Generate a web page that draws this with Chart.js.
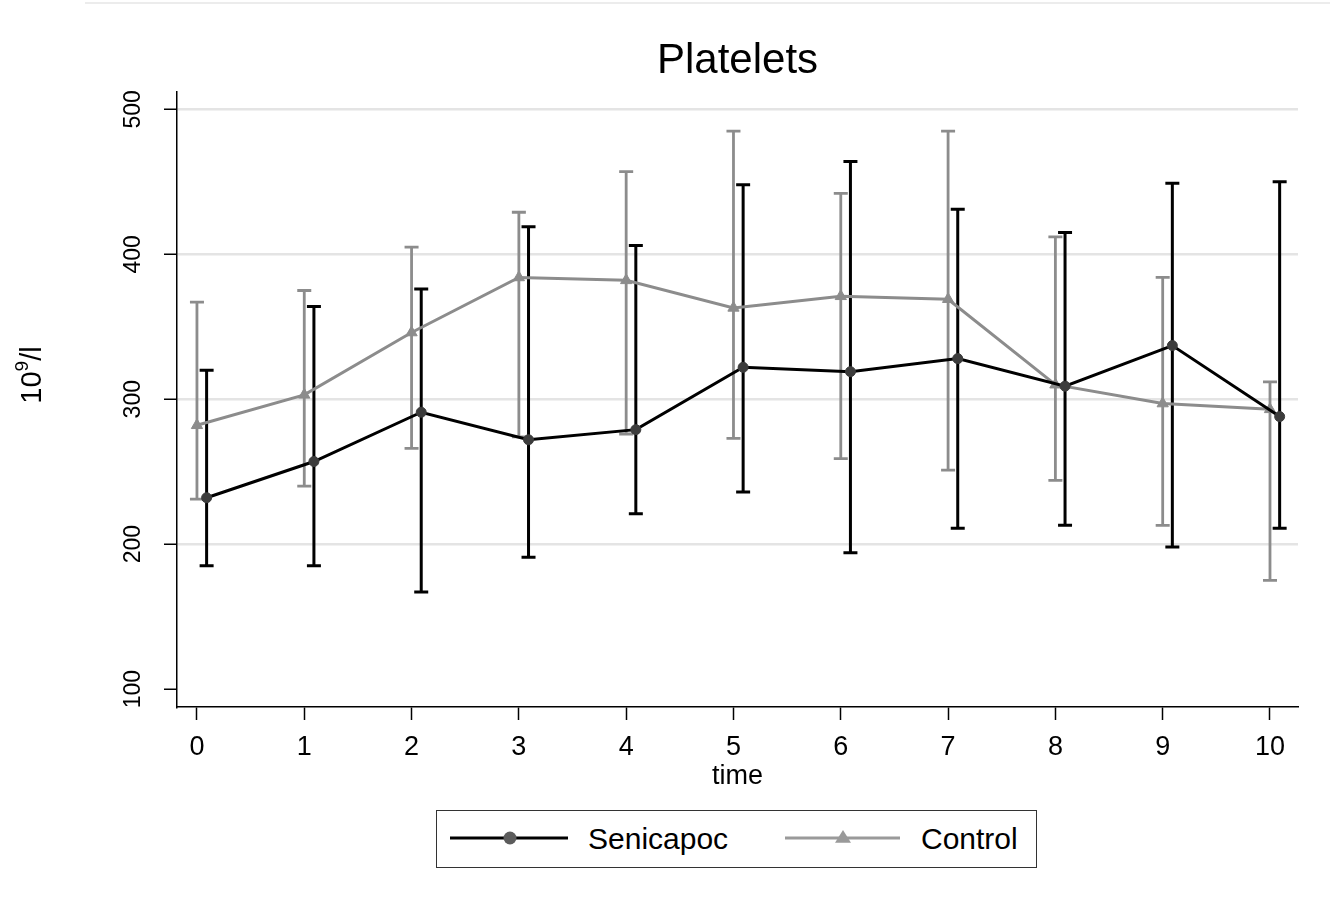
<!DOCTYPE html>
<html>
<head>
<meta charset="utf-8">
<script src="https://cdn.jsdelivr.net/npm/chart.js@4/dist/chart.umd.min.js"></script>
<style>
html,body{margin:0;padding:0;background:#fff;}
#wrap{position:relative;width:1330px;height:909px;overflow:hidden;font-family:'Liberation Sans',Arial,sans-serif;}
#topline{position:absolute;left:85px;top:2px;width:1245px;height:2px;background:#ececec;}
#c{position:absolute;left:0;top:0;}
#legend{position:absolute;left:436px;top:810px;width:601px;height:58px;box-sizing:border-box;border:1.5px solid #333;background:#fff;}
#legend svg{position:absolute;left:0;top:0;}
.lg-text{position:absolute;top:0;height:55px;line-height:55px;font-size:30px;color:#000;white-space:nowrap;}
</style>
</head>
<body>
<div id="wrap">
  <div id="topline"></div>
  <canvas id="c" width="1330" height="909"></canvas>
  <div id="legend"></div>
</div>
<script>
// ---- data ----
const timePoints = [0, 1, 2, 3, 4, 5, 6, 7, 8, 9, 10];
const xTickLabels = ['0', '1', '2', '3', '4', '5', '6', '7', '8', '9', '10'];
const yTickValues = [100, 200, 300, 400, 500];
const yTickLabels = ['100', '200', '300', '400', '500'];
const seriesNames = ['Senicapoc', 'Control'];

const senicapocMean = [232, 257, 291, 272, 279, 322, 319, 328, 309, 337, 288];
const senicapocLow  = [185, 185, 167, 191, 221, 236, 194, 211, 213, 198, 211];
const senicapocHigh = [320, 364, 376, 419, 406, 448, 464, 431, 415, 449, 450];

const controlMean = [282, 303, 346, 384, 382, 363, 371, 369, 310, 297, 293];
const controlLow  = [231, 240, 266, 274, 276, 273, 259, 251, 244, 213, 175];
const controlHigh = [367, 375, 405, 429, 457, 485, 442, 485, 412, 384, 312];

// ---- styling ----
const FONT = "'Liberation Sans', Arial, sans-serif";
const BLACK = '#000000';
const GREY = '#8c8c8c';
const SENI_MARKER = '#3c3c3c';
const DODGE = 0.09; // horizontal dodge of the Senicapoc series

Chart.defaults.font.family = FONT;
Chart.defaults.color = '#000';

const errorBarPlugin = {
  id: 'errorBars',
  beforeDatasetsDraw(chart) {
    const ctx = chart.ctx;
    const xs = chart.scales.x, ys = chart.scales.y;
    for (let d = chart.data.datasets.length - 1; d >= 0; d--) {
      const ds = chart.data.datasets[d];
      ctx.save();
      ctx.strokeStyle = ds.barColor;
      ctx.lineWidth = ds.barWidth;
      ctx.lineCap = 'butt';
      ds.data.forEach((p, i) => {
        const px = xs.getPixelForValue(p.x);
        const yl = ys.getPixelForValue(ds.errLow[i]);
        const yh = ys.getPixelForValue(ds.errHigh[i]);
        const cap = 7;
        ctx.beginPath();
        ctx.moveTo(px, yl); ctx.lineTo(px, yh);
        ctx.moveTo(px - cap, yl); ctx.lineTo(px + cap, yl);
        ctx.moveTo(px - cap, yh); ctx.lineTo(px + cap, yh);
        ctx.stroke();
      });
      ctx.restore();
    }
  }
};

const yTitlePlugin = {
  id: 'yTitle',
  afterDraw(chart) {
    const ctx = chart.ctx;
    ctx.save();
    ctx.translate(33, 375);
    ctx.rotate(-Math.PI / 2);
    ctx.fillStyle = '#000';
    ctx.textBaseline = 'middle';
    ctx.textAlign = 'left';
    const big = '29px ' + FONT, small = '19px ' + FONT;
    ctx.font = big; const w1 = ctx.measureText('10').width;
    ctx.font = small; const w2 = ctx.measureText('9').width;
    ctx.font = big; const w3 = ctx.measureText('/l').width;
    let x = -(w1 + w2 + w3) / 2;
    ctx.font = big; ctx.fillText('10', x, 0); x += w1;
    ctx.font = small; ctx.fillText('9', x, -10); x += w2;
    ctx.font = big; ctx.fillText('/l', x, 0);
    ctx.restore();
  }
};

const chart = new Chart(document.getElementById('c'), {
  type: 'line',
  data: {
    datasets: [
      {
        label: seriesNames[0],
        data: timePoints.map((t, i) => ({ x: t + DODGE, y: senicapocMean[i] })),
        errLow: senicapocLow, errHigh: senicapocHigh,
        barColor: BLACK, barWidth: 3,
        borderColor: BLACK, borderWidth: 3,
        pointStyle: 'circle', pointRadius: 5,
        pointBackgroundColor: SENI_MARKER, pointBorderColor: SENI_MARKER, pointBorderWidth: 1,
        tension: 0, fill: false
      },
      {
        label: seriesNames[1],
        data: timePoints.map((t, i) => ({ x: t, y: controlMean[i] })),
        errLow: controlLow, errHigh: controlHigh,
        barColor: GREY, barWidth: 2.8,
        borderColor: GREY, borderWidth: 3,
        pointStyle: 'triangle', pointRadius: 6.5,
        pointBackgroundColor: GREY, pointBorderColor: GREY, pointBorderWidth: 1,
        tension: 0, fill: false
      }
    ]
  },
  options: {
    responsive: false,
    animation: false,
    devicePixelRatio: 1,
    layout: { padding: { left: 0, right: 32, top: 0, bottom: 116 } },
    plugins: {
      legend: { display: false },
      tooltip: { enabled: false },
      title: {
        display: true, text: 'Platelets', fullSize: false, color: '#000',
        font: { size: 42, weight: 'normal' },
        padding: { top: 36, bottom: 5 }
      }
    },
    scales: {
      x: {
        type: 'linear',
        min: -0.186, max: 10.261,
        afterBuildTicks: s => { s.ticks = timePoints.map(v => ({ value: v })); },
        afterFit: s => { s.height = 86; },
        ticks: {
          autoSkip: false, maxRotation: 0, minRotation: 0,
          font: { size: 27 }, color: '#000', padding: 11,
          callback: v => xTickLabels[timePoints.indexOf(v)]
        },
        grid: { drawOnChartArea: false, drawTicks: true, tickLength: 13, tickColor: '#000', tickWidth: 1.5 },
        border: { display: true, color: '#000', width: 1.5 },
        title: { display: true, text: 'time', color: '#000', font: { size: 27 }, padding: { top: 0, bottom: 0 } }
      },
      y: {
        type: 'linear',
        min: 87.6, max: 512.4,
        afterBuildTicks: s => { s.ticks = yTickValues.map(v => ({ value: v })); },
        afterFit: s => { s.width = 177; },
        ticks: {
          autoSkip: false, minRotation: 90, maxRotation: 90, crossAlign: 'center',
          font: { size: 23 }, color: '#000', padding: 11,
          callback: v => yTickLabels[yTickValues.indexOf(v)]
        },
        grid: {
          color: c => (c.tick && c.tick.value === yTickValues[0]) ? 'rgba(0,0,0,0)' : '#e4e4e4',
          lineWidth: 2.5, drawTicks: true, tickLength: 13, tickColor: '#000', tickWidth: 1.5
        },
        border: { display: true, color: '#000', width: 1.5 }
      }
    }
  },
  plugins: [errorBarPlugin, yTitlePlugin]
});

// ---- legend (HTML, built from the dataset definitions) ----
(function buildLegend() {
  const lg = document.getElementById('legend');
  const ns = 'http://www.w3.org/2000/svg';
  const svg = document.createElementNS(ns, 'svg');
  svg.setAttribute('width', '598'); svg.setAttribute('height', '55');
  lg.appendChild(svg);
  const items = [
    { ds: chart.data.datasets[0], x0: 13, x1: 131, mx: 73, tx: 151 },
    { ds: chart.data.datasets[1], x0: 348, x1: 463, mx: 406, tx: 484 }
  ];
  const cy = 27;
  items.forEach(it => {
    const line = document.createElementNS(ns, 'line');
    line.setAttribute('x1', it.x0); line.setAttribute('x2', it.x1);
    line.setAttribute('y1', cy); line.setAttribute('y2', cy);
    line.setAttribute('stroke', it.ds === chart.data.datasets[1] ? '#9a9a9a' : it.ds.borderColor);
    line.setAttribute('stroke-width', it.ds.borderWidth);
    svg.appendChild(line);
    if (it.ds.pointStyle === 'circle') {
      const c = document.createElementNS(ns, 'circle');
      c.setAttribute('cx', it.mx); c.setAttribute('cy', cy); c.setAttribute('r', 6.5);
      c.setAttribute('fill', '#5c5c5c');
      svg.appendChild(c);
    } else {
      const r = 8;
      const t = document.createElementNS(ns, 'polygon');
      t.setAttribute('points', `${it.mx},${cy - r} ${it.mx + r},${cy + r * 0.6} ${it.mx - r},${cy + r * 0.6}`);
      t.setAttribute('fill', '#9a9a9a');
      svg.appendChild(t);
    }
    const s = document.createElement('div');
    s.className = 'lg-text';
    s.style.left = it.tx + 'px';
    s.textContent = it.ds.label;
    lg.appendChild(s);
  });
})();
</script>
</body>
</html>
